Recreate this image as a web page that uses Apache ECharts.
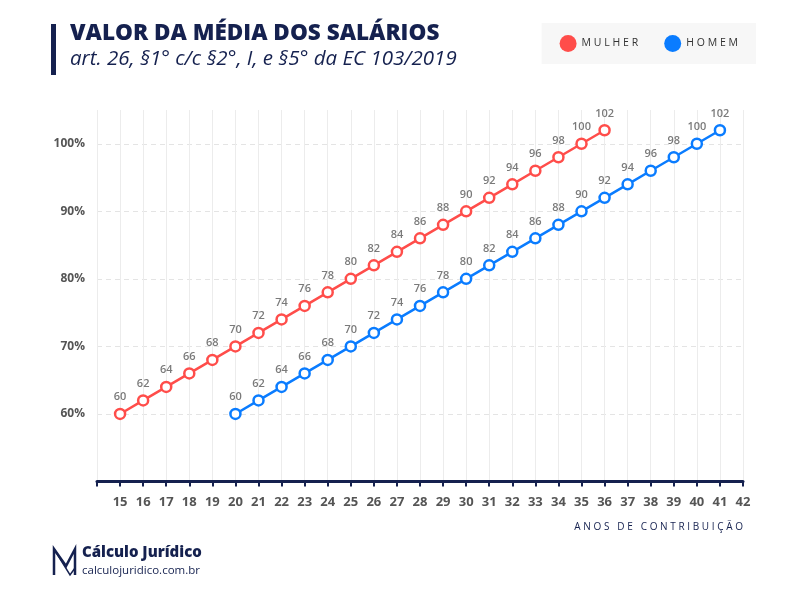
<!DOCTYPE html>
<html>
<head>
<meta charset="utf-8">
<script src="https://cdn.jsdelivr.net/npm/echarts@6/dist/echarts.min.js"></script>
<style>html,body{margin:0;padding:0;background:#fff}#c{width:800px;height:600px}</style>
</head>
<body>
<div id="c"></div>
<script>
var anosMulher = [15,16,17,18,19,20,21,22,23,24,25,26,27,28,29,30,31,32,33,34,35,36];
var anosHomem  = [20,21,22,23,24,25,26,27,28,29,30,31,32,33,34,35,36,37,38,39,40,41];
var valoresMulher = [60,62,64,66,68,70,72,74,76,78,80,82,84,86,88,90,92,94,96,98,100,102];
var valoresHomem  = [60,62,64,66,68,70,72,74,76,78,80,82,84,86,88,90,92,94,96,98,100,102];
var yTickLabels = [60,70,80,90,100];
var seriesNames = ['MULHER','HOMEM'];
var seriesColors = ['#ff4d4a','#0a7cff'];

function spaced(s, sep){ return s.split('').join(sep || '\u2009'); }
function pairs(xs, ys){ return xs.map(function(x,i){ return [x, ys[i]]; }); }

var navy = '#15214f';
var chart = echarts.init(document.getElementById('c'));
var labelStyle = { show: true, position: 'top', distance: 5, color: '#7a7a7a', fontSize: 11, fontWeight: 600, fontFamily: 'Open Sans' };
chart.setOption({
  backgroundColor: '#fff',
  animation: false,
  textStyle: { fontFamily: 'Open Sans' },
  legend: {
    right: 44, top: 23, height: 24,
    backgroundColor: '#f7f7f7',
    padding: [12, 18, 12, 18],
    itemGap: 26, itemWidth: 17, itemHeight: 17,
    icon: 'circle',
    data: seriesNames.map(function(n, i){ return { name: n, itemStyle: { color: seriesColors[i], borderWidth: 0 } }; }),
    formatter: function(n){ return spaced(n, '\u2009\u200a'); },
    textStyle: { color: '#333', fontSize: 10.5, fontFamily: 'Open Sans' }
  },
  grid: { left: 97, right: 57, top: 110, bottom: 118.5 },
  xAxis: {
    type: 'value', min: 14, max: 42, interval: 1,
    name: spaced('ANOS DE CONTRIBUIÇÃO', '\u2009\u200a'),
    nameLocation: 'end',
    nameGap: 0,
    nameTextStyle: { color: navy, fontSize: 10, align: 'right', verticalAlign: 'top', padding: [41, 0, 0, 0] },
    axisLine: { lineStyle: { color: navy, width: 3 } },
    axisTick: { show: true, length: 5, lineStyle: { color: navy, width: 2 } },
    axisLabel: {
      margin: 14, color: '#555', fontSize: 13, fontWeight: 700, fontFamily: 'Open Sans',
      formatter: function(v){ return v === 14 ? '' : String(v); }
    },
    splitLine: { show: true, lineStyle: { color: '#ececec', width: 1 } }
  },
  yAxis: {
    type: 'value', min: 50, max: 105, interval: 10,
    axisLine: { show: false }, axisTick: { show: false },
    axisLabel: {
      margin: 12, color: '#555', fontSize: 12, fontWeight: 700, fontFamily: 'Open Sans',
      formatter: function(v){ return yTickLabels.indexOf(v) >= 0 ? v + '%' : ''; }
    },
    splitLine: { show: true, showMinLine: false, showMaxLine: false, lineStyle: { color: '#e4e4e4', type: [5, 4] } }
  },
  series: [
    {
      name: seriesNames[0], type: 'line', data: pairs(anosMulher, valoresMulher),
      symbol: 'circle', symbolSize: 10, showAllSymbol: true,
      itemStyle: { color: '#fff', borderColor: seriesColors[0], borderWidth: 2.5 },
      lineStyle: { color: seriesColors[0], width: 2.5 },
      label: labelStyle,
      z: 3
    },
    {
      name: seriesNames[1], type: 'line', data: pairs(anosHomem, valoresHomem),
      symbol: 'circle', symbolSize: 10, showAllSymbol: true,
      itemStyle: { color: '#fff', borderColor: seriesColors[1], borderWidth: 2.5 },
      lineStyle: { color: seriesColors[1], width: 2.5 },
      label: labelStyle,
      z: 3
    }
  ],
  graphic: [
    { type: 'rect', shape: { x: 51, y: 24, width: 5, height: 51 }, style: { fill: navy } },
    { type: 'text', x: 70, y: 22, style: { text: 'VALOR DA MÉDIA DOS SALÁRIOS', fill: navy, font: '800 22.5px "Open Sans"' } },
    { type: 'text', x: 70, y: 49, style: { text: 'art. 26, §1° c/c §2°, I, e §5° da EC 103/2019', fill: navy, font: 'italic 400 20.5px "Open Sans"' } },
    { type: 'polyline', shape: { points: [[54,575],[54,549],[66,566],[75,549],[75,575]] }, style: { stroke: navy, lineWidth: 2.5, fill: null } },
    { type: 'polyline', shape: { points: [[54,549],[70,575],[75,568]] }, style: { stroke: navy, lineWidth: 1.5, fill: null } },
    { type: 'text', x: 82, y: 545, style: { text: 'Cálculo Jurídico', fill: navy, font: '800 15px "Open Sans"' } },
    { type: 'text', x: 82, y: 565, style: { text: 'calculojuridico.com.br', fill: navy, font: '400 11.5px "Open Sans"' } }
  ]
});
</script>
</body>
</html>
